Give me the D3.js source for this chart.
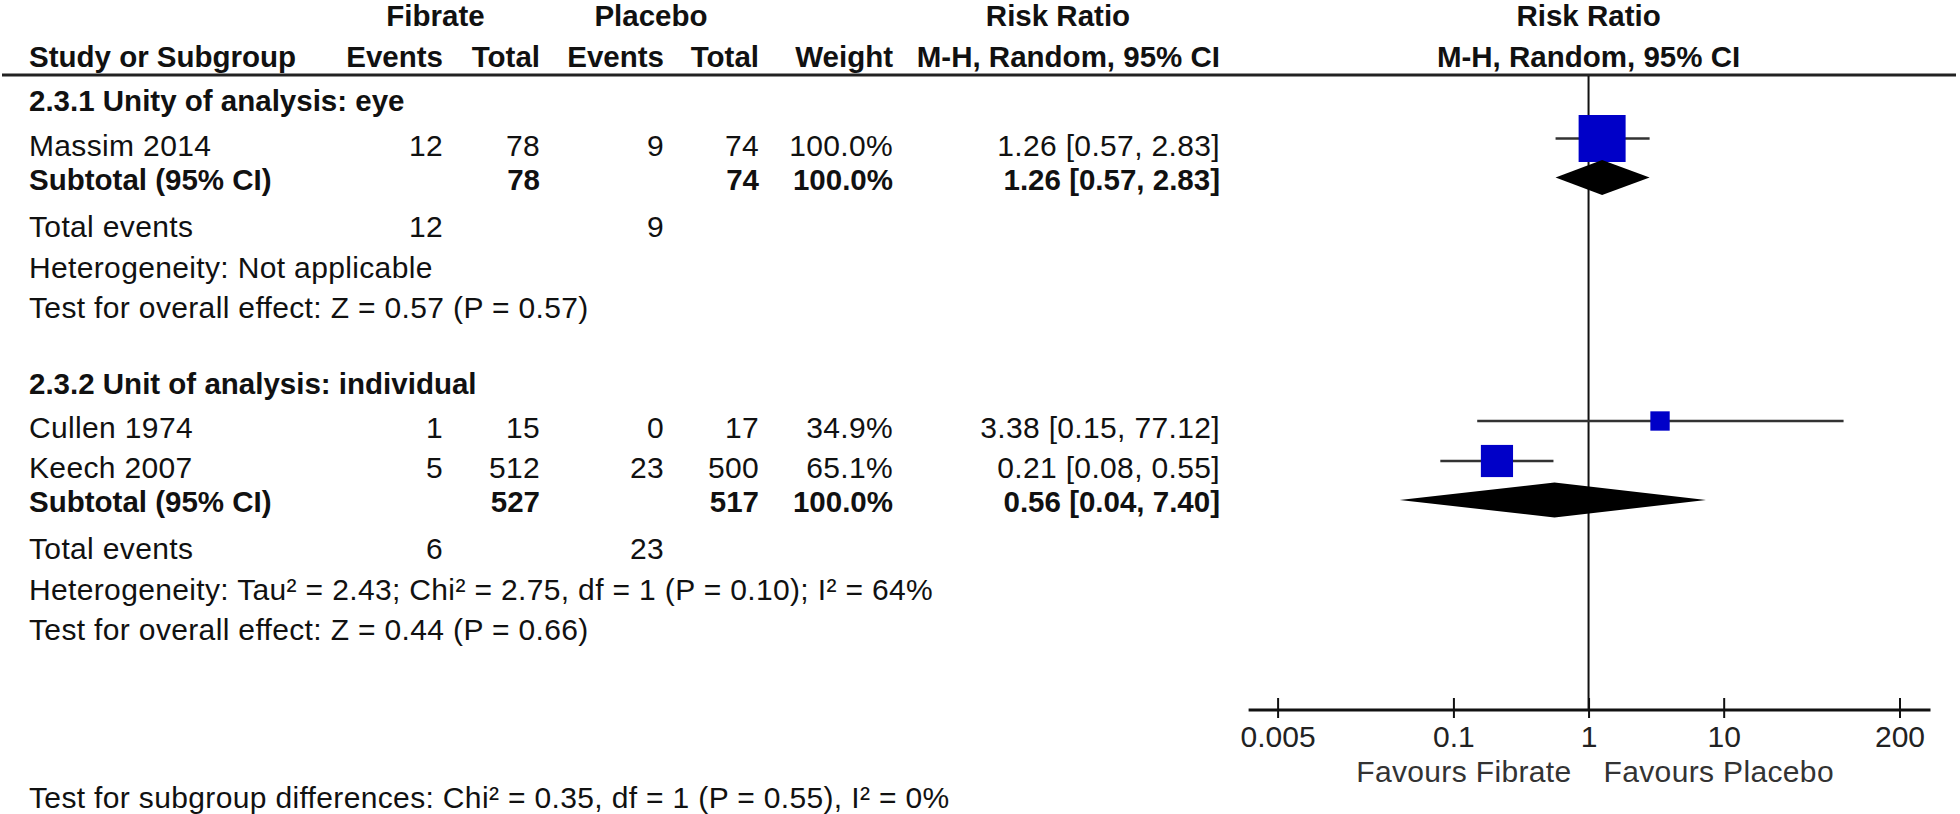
<!DOCTYPE html>
<html><head><meta charset="utf-8">
<script src="https://cdn.jsdelivr.net/npm/d3@7"></script>
<style>
html,body{margin:0;padding:0;background:#fff;}
svg text{font-family:"Liberation Sans", Arial, Helvetica, sans-serif; fill:#111;}
</style></head><body>
<svg id="c" width="1960" height="814"></svg>
<script>
// ---------- data ----------
const groupTitles = ["2.3.1 Unity of analysis: eye", "2.3.2 Unit of analysis: individual"];
const studyNames = ["Massim 2014", "Cullen 1974", "Keech 2007"];
const studyGroup = [0, 1, 1];
const fibrateEvents = [12, 1, 5];
const fibrateTotal = [78, 15, 512];
const placeboEvents = [9, 0, 23];
const placeboTotal = [74, 17, 500];
const studyWeight = [100.0, 34.9, 65.1];
const studyRR = [1.26, 3.38, 0.21];
const studyLow = [0.57, 0.15, 0.08];
const studyHigh = [2.83, 77.12, 0.55];
const subFibrateTotal = [78, 527];
const subPlaceboTotal = [74, 517];
const subWeight = [100.0, 100.0];
const subRR = [1.26, 0.56];
const subLow = [0.57, 0.04];
const subHigh = [2.83, 7.40];
const totalEventsFibrate = [12, 6];
const totalEventsPlacebo = [9, 23];
const heterogeneity = ["Heterogeneity: Not applicable",
  "Heterogeneity: Tau\u00B2 = 2.43; Chi\u00B2 = 2.75, df = 1 (P = 0.10); I\u00B2 = 64%"];
const overallEffect = ["Test for overall effect: Z = 0.57 (P = 0.57)",
  "Test for overall effect: Z = 0.44 (P = 0.66)"];
const subgroupTest = "Test for subgroup differences: Chi\u00B2 = 0.35, df = 1 (P = 0.55), I\u00B2 = 0%";
const tickValues = [0.005, 0.1, 1, 10, 200];
const tickLabels = ["0.005", "0.1", "1", "10", "200"];
const favoursLabels = ["Favours Fibrate", "Favours Placebo"];
const headerGroups = ["Fibrate", "Placebo"];
const headerCols = ["Study or Subgroup", "Events", "Total", "Events", "Total", "Weight", "M-H, Random, 95% CI"];
const plotTitle = ["Risk Ratio", "M-H, Random, 95% CI"];

// ---------- layout ----------
const svg = d3.select("#c");
const REG = 30, BOLD = 29.5;
const col = {name: 29, fe: 443, ft: 540, pe: 664, pt: 759, w: 893, ci: 1220};
const x = d3.scaleLog().domain([0.005, 200]).range([1277.6, 1899.5]);
const box = d3.scaleLinear().domain([0, 100]).range([4.5, 47]);
const f2 = d3.format(".2f"), f1 = d3.format(".1f");
const ciText = (r, l, h) => `${f2(r)} [${f2(l)}, ${f2(h)}]`;

function txt(xp, y, s, o = {}) {
  const t = svg.append("text").attr("x", xp).attr("y", y)
    .attr("text-anchor", o.anchor || "start")
    .attr("font-size", o.bold ? BOLD : REG)
    .attr("font-weight", o.bold ? "bold" : "normal")
    .style("fill", o.fill || "#111")
    .text(s);
  if (!o.bold) t.style("letter-spacing", "0.35px");
  return t;
}

// header
txt((col.fe + col.ft) / 2 - 56, 26, headerGroups[0], {bold: true, anchor: "middle"});
txt(651, 26, headerGroups[1], {bold: true, anchor: "middle"});
txt(1058, 26, plotTitle[0], {bold: true, anchor: "middle"});
txt(x(1), 26, plotTitle[0], {bold: true, anchor: "middle"});
txt(col.name, 67, headerCols[0], {bold: true});
txt(col.fe, 67, headerCols[1], {bold: true, anchor: "end"});
txt(col.ft, 67, headerCols[2], {bold: true, anchor: "end"});
txt(col.pe, 67, headerCols[3], {bold: true, anchor: "end"});
txt(col.pt, 67, headerCols[4], {bold: true, anchor: "end"});
txt(col.w, 67, headerCols[5], {bold: true, anchor: "end"});
txt(col.ci, 67, headerCols[6], {bold: true, anchor: "end"});
txt(x(1), 67, plotTitle[1], {bold: true, anchor: "middle"});

svg.append("line").attr("x1", 2).attr("x2", 1956).attr("y1", 75).attr("y2", 75)
  .attr("stroke", "#222").attr("stroke-width", 3);

// vertical line of no effect
const axisY = 710;
svg.append("line").attr("x1", x(1)).attr("x2", x(1)).attr("y1", 76).attr("y2", axisY)
  .attr("stroke", "#111").attr("stroke-width", 2);

const marks = svg.append("g");
let y = 111;
groupTitles.forEach((g, gi) => {
  txt(col.name, y, g, {bold: true});
  y += 44.5;
  const idx = studyNames.map((_, i) => i).filter(i => studyGroup[i] === gi);
  idx.forEach((i, k) => {
    if (k > 0) y += 40;
    txt(col.name, y, studyNames[i]);
    txt(col.fe, y, fibrateEvents[i], {anchor: "end"});
    txt(col.ft, y, fibrateTotal[i], {anchor: "end"});
    txt(col.pe, y, placeboEvents[i], {anchor: "end"});
    txt(col.pt, y, placeboTotal[i], {anchor: "end"});
    txt(col.w, y, f1(studyWeight[i]) + "%", {anchor: "end"});
    txt(col.ci, y, ciText(studyRR[i], studyLow[i], studyHigh[i]), {anchor: "end"});
    const cy = y - 17;
    marks.append("line").attr("x1", x(studyLow[i])).attr("x2", x(studyHigh[i]))
      .attr("y1", cy).attr("y2", cy).attr("stroke", "#333").attr("stroke-width", 2.5);
    const s = box(studyWeight[i]);
    marks.append("rect").attr("x", x(studyRR[i]) - s / 2).attr("y", cy - s / 2)
      .attr("width", s).attr("height", s).attr("fill", "#0000C8");
  });
  y += 34;
  txt(col.name, y, "Subtotal (95% CI)", {bold: true});
  txt(col.ft, y, subFibrateTotal[gi], {bold: true, anchor: "end"});
  txt(col.pt, y, subPlaceboTotal[gi], {bold: true, anchor: "end"});
  txt(col.w, y, f1(subWeight[gi]) + "%", {bold: true, anchor: "end"});
  txt(col.ci, y, ciText(subRR[gi], subLow[gi], subHigh[gi]), {bold: true, anchor: "end"});
  const dy = y - 12, hh = 17.5;
  marks.append("path")
    .attr("d", `M${x(subLow[gi])},${dy} L${x(subRR[gi])},${dy - hh} L${x(subHigh[gi])},${dy} L${x(subRR[gi])},${dy + hh} Z`)
    .attr("fill", "#000");
  y += 47;
  txt(col.name, y, "Total events");
  txt(col.fe, y, totalEventsFibrate[gi], {anchor: "end"});
  txt(col.pe, y, totalEventsPlacebo[gi], {anchor: "end"});
  y += 41;
  txt(col.name, y, heterogeneity[gi]);
  y += 40;
  txt(col.name, y, overallEffect[gi]);
  y += 76;
});

// axis
const axis = svg.append("g").attr("transform", `translate(0,${axisY})`);
axis.call(d3.axisBottom(x).tickValues(tickValues).tickFormat((d, i) => tickLabels[i]).tickSize(0));
axis.select(".domain").remove();
axis.selectAll(".tick line").attr("y1", -12).attr("y2", 8).attr("stroke", "#111").attr("stroke-width", 2);
axis.selectAll(".tick text").attr("y", 37).attr("dy", null)
  .attr("font-size", REG).attr("font-family", "Liberation Sans, Arial, sans-serif")
  .style("fill", "#222");
axis.append("line").attr("x1", x.range()[0] - 29).attr("x2", x.range()[1] + 31)
  .attr("y1", 0).attr("y2", 0).attr("stroke", "#111").attr("stroke-width", 3);

txt(x(1) - 17, 782, favoursLabels[0], {anchor: "end", fill: "#333"});
txt(x(1) + 15, 782, favoursLabels[1], {anchor: "start", fill: "#333"});

txt(col.name, 808, subgroupTest);
</script>
</body></html>
